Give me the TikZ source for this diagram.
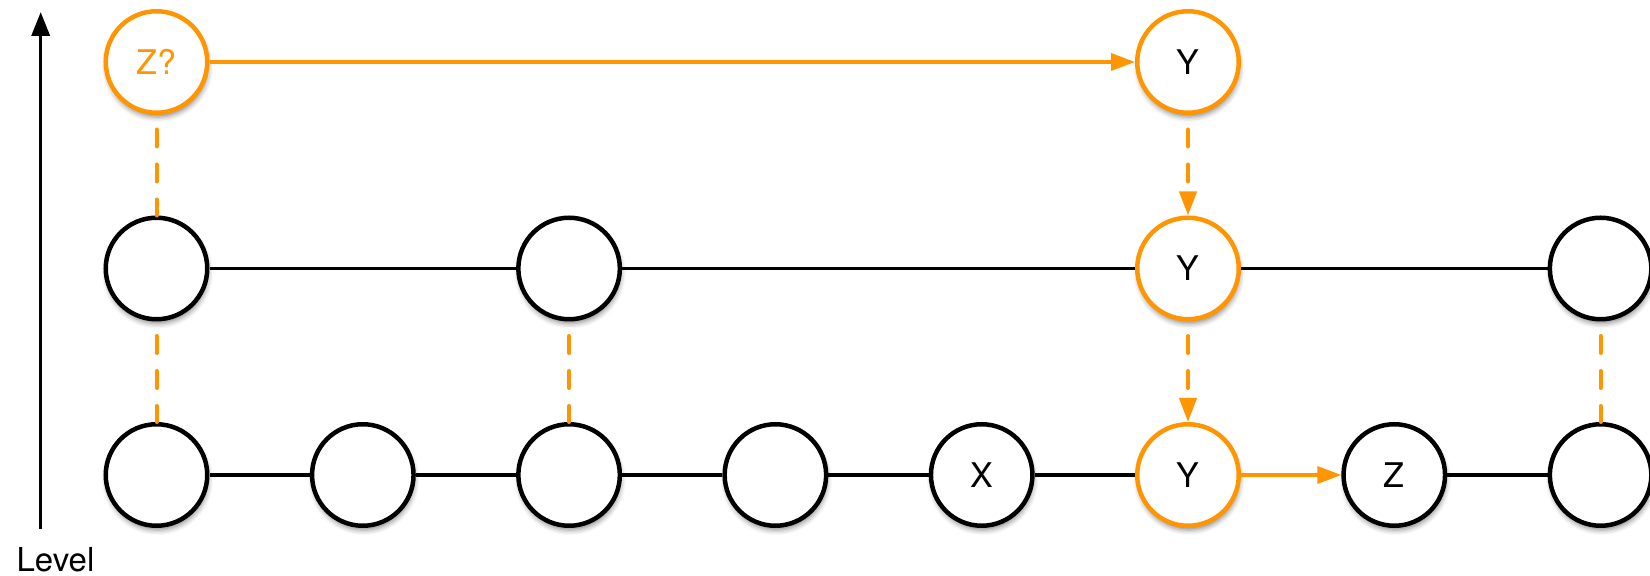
\documentclass[tikz,border=0pt]{standalone}
\usepackage{fontspec}
\setmainfont{TeX Gyre Heros}
\usetikzlibrary{arrows.meta,shadows.blur}
\definecolor{orng}{RGB}{255,149,0}
\begin{document}
\begin{tikzpicture}[x=0.5pt,y=-0.5pt,
  vtx/.style={circle, draw=black, line width=2.25pt, fill=white, minimum size=50.75pt,
    inner sep=0pt, font=\fontsize{17}{20}\selectfont,
    blur shadow={shadow xshift=0.5pt, shadow yshift=-2.2pt, shadow blur radius=2.5pt, shadow opacity=45}},
  hot/.style={vtx, draw=orng},
  link/.style={line width=1.75pt},
  hotarrow/.style={draw=orng, line width=1.75pt, -{Triangle[length=12pt,width=8.5pt]}},
  hotdash/.style={draw=orng, line width=2pt, line cap=round, dash pattern=on 8.5pt off 9pt, dash phase=10.25pt},
  hotdasharrow/.style={hotdash, -{Triangle[length=12pt,width=8.5pt]}},
  axis/.style={line width=1.75pt, -{Triangle[length=12pt,width=9pt]}}
]
\useasboundingbox (0,0) rectangle (1650,576);
% level axis
\coordinate (axb) at (40.7,529);
\coordinate (axt) at (40.7,12);
\draw[axis] (axb) -- (axt);
\node[anchor=base, font=\fontsize{16.5}{20}\selectfont] (lvl) at (55.5,572) {Level};
% top row
\node[hot, text=orng] (t0) at (156.5,62) {Z?};
\node[hot] (t5) at (1188,62) {Y};
% middle row
\node[vtx] (m0) at (156.5,268.5) {};
\node[vtx] (m2) at (569.1,268.5) {};
\node[hot] (m5) at (1188,268.5) {Y};
\node[vtx] (m7) at (1600.6,268.5) {};
% bottom row
\node[vtx] (b0) at (156.5,475) {};
\node[vtx] (b1) at (362.8,475) {};
\node[vtx] (b2) at (569.1,475) {};
\node[vtx] (b3) at (775.4,475) {};
\node[vtx] (b4) at (981.7,475) {X};
\node[hot] (b5) at (1188,475) {Y};
\node[vtx] (b6) at (1394.3,475) {Z};
\node[vtx] (b7) at (1600.6,475) {};
% links
\draw[link] (m0) -- (m2);
\draw[link] (m2) -- (m5);
\draw[link] (m5) -- (m7);
\draw[link] (b0) -- (b1);
\draw[link] (b1) -- (b2);
\draw[link] (b2) -- (b3);
\draw[link] (b3) -- (b4);
\draw[link] (b4) -- (b5);
\draw[link] (b6) -- (b7);
% orange
\draw[hotarrow] (t0) -- (t5);
\draw[hotarrow] (b5) -- (b6);
\draw[hotdasharrow] (t5) -- (m5);
\draw[hotdasharrow] (m5) -- (b5);
\draw[hotdash] (t0) -- (m0);
\draw[hotdash] (m0) -- (b0);
\draw[hotdash] (m2) -- (b2);
\draw[hotdash] (m7) -- (b7);
\end{tikzpicture}
\end{document}
